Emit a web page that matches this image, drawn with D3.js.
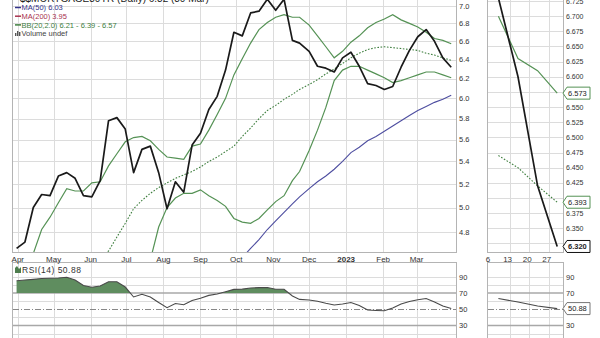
<!DOCTYPE html>
<html>
<head>
<meta charset="utf-8">
<script src="https://cdn.jsdelivr.net/npm/d3@7.9.0/dist/d3.min.js"></script>
<style>
  html, body { margin: 0; padding: 0; background: #fff; }
  svg { display: block; font-family: "Liberation Sans", Arial, sans-serif; }
</style>
</head>
<body>
<svg id="chart" width="600" height="338"></svg>
<script>
// weekly readings, Mar 2022 - Mar 2023
const dates = [
  '2022-03-31', '2022-04-07', '2022-04-14', '2022-04-21', '2022-04-28',
  '2022-05-05', '2022-05-12', '2022-05-19', '2022-05-26', '2022-06-02',
  '2022-06-09', '2022-06-16', '2022-06-23', '2022-06-30', '2022-07-07',
  '2022-07-14', '2022-07-21', '2022-07-28', '2022-08-04', '2022-08-11',
  '2022-08-18', '2022-08-25', '2022-09-01', '2022-09-08', '2022-09-15',
  '2022-09-22', '2022-09-29', '2022-10-06', '2022-10-13', '2022-10-20',
  '2022-10-27', '2022-11-03', '2022-11-10', '2022-11-17', '2022-11-23',
  '2022-12-01', '2022-12-08', '2022-12-15', '2022-12-22', '2022-12-29',
  '2023-01-05', '2023-01-12', '2023-01-19', '2023-01-26', '2023-02-02',
  '2023-02-09', '2023-02-16', '2023-02-23', '2023-03-02', '2023-03-09',
  '2023-03-16', '2023-03-23', '2023-03-30'
];

const close = [
  4.67, 4.72, 5.00, 5.11, 5.10, 5.27, 5.30, 5.25, 5.10, 5.09,
  5.23, 5.78, 5.81, 5.70, 5.30, 5.51, 5.54, 5.30, 4.99, 5.22,
  5.13, 5.55, 5.66, 5.89, 6.02, 6.29, 6.70, 6.66, 6.92, 6.94,
  7.08, 6.95, 7.08, 6.61, 6.58, 6.49, 6.33, 6.31, 6.27, 6.42,
  6.48, 6.33, 6.15, 6.13, 6.09, 6.12, 6.32, 6.50, 6.65, 6.73,
  6.60, 6.42, 6.32
];

const bbUpper = [
  4.40, 4.52, 4.63, 4.82, 4.92, 5.04, 5.16, 5.14, 5.14, 5.21,
  5.22, 5.36, 5.47, 5.58, 5.62, 5.63, 5.59, 5.51, 5.44, 5.43,
  5.42, 5.54, 5.56, 5.69, 5.84, 6.00, 6.24, 6.41, 6.58, 6.73,
  6.81, 6.87, 6.90, 6.87, 6.87, 6.78, 6.66, 6.54, 6.42, 6.49,
  6.59, 6.66, 6.75, 6.81, 6.85, 6.90, 6.84, 6.80, 6.76, 6.70,
  6.63, 6.61, 6.573
];

// below the panel before mid-June, so not readable there
const bbMiddle = [
  null, null, null, null, null, null, null, null, null, null,
  4.60, 4.65, 4.76, 4.87, 4.99, 5.06, 5.12, 5.17, 5.21, 5.25,
  5.28, 5.31, 5.35, 5.40, 5.44, 5.49, 5.54, 5.63, 5.71, 5.80,
  5.88, 5.93, 5.99, 6.04, 6.09, 6.14, 6.19, 6.25, 6.30, 6.36,
  6.42, 6.47, 6.51, 6.53, 6.54, 6.53, 6.52, 6.51, 6.50, 6.47,
  6.45, 6.42, 6.393
];

const bbLower = [
  null, null, null, null, null, null, null, null, null, null,
  null, null, null, null, null, 4.45, 4.58, 4.84, 5.00, 5.08,
  5.12, 5.12, 5.15, 5.10, 5.06, 5.01, 4.91, 4.88, 4.87, 4.91,
  4.98, 5.05, 5.10, 5.23, 5.31, 5.50, 5.69, 5.91, 6.18, 6.29,
  6.33, 6.33, 6.29, 6.25, 6.21, 6.16, 6.18, 6.21, 6.24, 6.27,
  6.27, 6.24, 6.21
];

const ma50 = [
  null, null, null, null, null, null, null, null, null, null,
  null, null, null, null, null, null, null, null, null, null,
  null, null, null, null, null, null, null, 4.60, 4.67, 4.74,
  4.82, 4.89, 4.96, 5.03, 5.09, 5.16, 5.22, 5.27, 5.33, 5.40,
  5.48, 5.53, 5.59, 5.63, 5.68, 5.73, 5.78, 5.83, 5.88, 5.92,
  5.96, 5.99, 6.03
];

const ma200Last = 3.95;

const rsi = [
  85.3, 86.2, 87.0, 88.0, 88.3, 88.6, 89.5, 86.2, 79.4, 77.3,
  78.8, 84.0, 84.0, 77.5, 65.2, 68.5, 65.2, 58.4, 52.0, 57.2,
  55.6, 60.9, 63.7, 67.2, 68.8, 71.6, 74.6, 74.9, 76.3, 76.8,
  77.0, 74.7, 74.7, 66.4, 62.2, 61.5, 59.9, 57.4, 55.3, 56.5,
  58.4, 54.7, 49.1, 48.6, 48.3, 51.6, 56.5, 59.6, 61.7, 63.3,
  59.0, 54.0, 50.88
];

const priceTicks = [4.8, 5.0, 5.2, 5.4, 5.6, 5.8, 6.0, 6.2, 6.4, 6.6, 6.8, 7.0];
const sideTicks = [6.325, 6.35, 6.375, 6.4, 6.425, 6.45, 6.475, 6.5, 6.525, 6.55,
                   6.575, 6.6, 6.625, 6.65, 6.675, 6.7, 6.725];
const rsiTicks = [30, 50, 70, 90];
const monthLabels = ['Apr', 'May', 'Jun', 'Jul', 'Aug', 'Sep', 'Oct', 'Nov', 'Dec', '2023', 'Feb', 'Mar'];
const sideDays = ['2023-03-06', '2023-03-13', '2023-03-20', '2023-03-27'];
const sideDayLabels = ['6', '13', '20', '27'];

const parse = d3.utcParse('%Y-%m-%d');
const rows = dates.map((d, i) => ({
  date: parse(d), close: close[i], up: bbUpper[i], mid: bbMiddle[i],
  lo: bbLower[i], ma: ma50[i], rsi: rsi[i]
}));
const sideStart = parse('2023-03-06');
const sideRows = rows.filter(d => d.date >= sideStart);
const last = rows[rows.length - 1];

// panel boxes
const main = { x0: 13, x1: 456, y0: -20, y1: 252 };
const rsiBox = { x0: 13, x1: 456, y0: 263, y1: 345 };
const side = { x0: 488, x1: 563, y0: -20, y1: 252 };
const sideRsi = { x0: 488, x1: 563, y0: 263, y1: 345 };

const x = d3.scaleUtc().domain([parse('2022-03-28'), parse('2023-04-03')]).range([main.x0, main.x1]);
const y = d3.scaleLog().domain([4.64, 7.3]).range([252.3, -19.1]);
const yR = d3.scaleLinear().domain([0, 100]).range([349.8, 268.8]);
const xS = d3.scaleUtc().domain([sideStart, parse('2023-03-31')]).range([490, 560]);
const yS = d3.scaleLinear().domain([6.30, 6.75]).range([258.6, -14.15]);

const svg = d3.select('#chart');
const defs = svg.append('defs');
function clip(id, b) {
  defs.append('clipPath').attr('id', id).append('rect')
    .attr('x', b.x0).attr('y', b.y0).attr('width', b.x1 - b.x0).attr('height', b.y1 - b.y0);
}
clip('cMain', main); clip('cRsi', rsiBox); clip('cSide', side); clip('cSideRsi', sideRsi);
defs.append('clipPath').attr('id', 'cAbove70').append('rect')
  .attr('x', rsiBox.x0).attr('y', rsiBox.y0).attr('width', rsiBox.x1 - rsiBox.x0)
  .attr('height', yR(70) - rsiBox.y0);

const gridColor = '#dcdcdc';
const green = '#559255';

// ---- gridlines ----
const grid = svg.append('g').attr('stroke', gridColor).attr('stroke-width', 1);
const months = d3.utcMonth.range(parse('2022-04-01'), parse('2023-03-02'));
months.forEach(m => {
  const xx = Math.round(x(m)) + 0.5;
  grid.append('line').attr('x1', xx).attr('x2', xx).attr('y1', main.y0).attr('y2', main.y1);
  grid.append('line').attr('x1', xx).attr('x2', xx).attr('y1', rsiBox.y0).attr('y2', rsiBox.y1);
});
priceTicks.forEach(t => {
  const yy = Math.round(y(t)) + 0.5;
  grid.append('line').attr('x1', main.x0).attr('x2', main.x1).attr('y1', yy).attr('y2', yy);
});
sideTicks.forEach(t => {
  const yy = Math.round(yS(t)) + 0.5;
  grid.append('line').attr('x1', side.x0).attr('x2', side.x1).attr('y1', yy).attr('y2', yy);
});
sideDays.slice(1).forEach(d => {
  const xx = Math.round(xS(parse(d))) + 0.5;
  grid.append('line').attr('x1', xx).attr('x2', xx).attr('y1', side.y0).attr('y2', side.y1);
  grid.append('line').attr('x1', xx).attr('x2', xx).attr('y1', sideRsi.y0).attr('y2', sideRsi.y1);
});
[10, 20, 40, 60, 80, 90].forEach(t => {
  const yy = Math.round(yR(t)) + 0.5;
  grid.append('line').attr('x1', rsiBox.x0).attr('x2', rsiBox.x1).attr('y1', yy).attr('y2', yy);
  grid.append('line').attr('x1', sideRsi.x0).attr('x2', sideRsi.x1).attr('y1', yy).attr('y2', yy);
});

// rsi reference lines
[[rsiBox.x0, rsiBox.x1], [sideRsi.x0, sideRsi.x1]].forEach(([a, b]) => {
  [70, 30].forEach(t => {
    svg.append('line').attr('x1', a).attr('x2', b).attr('y1', yR(t)).attr('y2', yR(t))
      .attr('stroke', '#a8a8a8').attr('stroke-width', 1.5);
  });
  svg.append('line').attr('x1', a).attr('x2', b).attr('y1', Math.round(yR(50)) + 0.5).attr('y2', Math.round(yR(50)) + 0.5)
    .attr('stroke', '#888').attr('stroke-width', 1).attr('stroke-dasharray', '6,2,1,2');
});

// ---- main price lines ----
function lineOf(key, xs, ys) {
  return d3.line().defined(d => d[key] != null).x(d => xs(d.date)).y(d => ys(d[key]));
}
const gMain = svg.append('g').attr('clip-path', 'url(#cMain)').attr('fill', 'none');
gMain.append('path').attr('d', lineOf('ma', x, y)(rows)).attr('stroke', '#4e4ea0').attr('stroke-width', 1.1);
gMain.append('path').attr('d', lineOf('mid', x, y)(rows)).attr('stroke', '#3f7f3f').attr('stroke-width', 1.1)
  .attr('stroke-dasharray', '1.6,1.6');
gMain.append('path').attr('d', lineOf('lo', x, y)(rows)).attr('stroke', green).attr('stroke-width', 1.2);
gMain.append('path').attr('d', lineOf('up', x, y)(rows)).attr('stroke', green).attr('stroke-width', 1.2);
gMain.append('path').attr('d', lineOf('close', x, y)(rows)).attr('stroke', '#1a1a1a').attr('stroke-width', 1.7)
  .attr('stroke-linejoin', 'round');

// ---- side price lines ----
const gSide = svg.append('g').attr('clip-path', 'url(#cSide)').attr('fill', 'none');
gSide.append('path').attr('d', lineOf('mid', xS, yS)(sideRows)).attr('stroke', '#3f7f3f').attr('stroke-width', 1.1)
  .attr('stroke-dasharray', '1.6,1.6');
gSide.append('path').attr('d', lineOf('lo', xS, yS)(sideRows)).attr('stroke', green).attr('stroke-width', 1.2);
gSide.append('path').attr('d', lineOf('up', xS, yS)(sideRows)).attr('stroke', green).attr('stroke-width', 1.2);
gSide.append('path').attr('d', lineOf('close', xS, yS)(sideRows)).attr('stroke', '#1a1a1a').attr('stroke-width', 1.7);

// ---- rsi ----
const gRsi = svg.append('g').attr('clip-path', 'url(#cRsi)');
gRsi.append('g').attr('clip-path', 'url(#cAbove70)')
  .append('path')
  .attr('d', d3.area().x(d => x(d.date)).y0(yR(70)).y1(d => yR(d.rsi))(rows))
  .attr('fill', '#5f8d5f');
gRsi.append('path').attr('d', lineOf('rsi', x, yR)(rows)).attr('fill', 'none')
  .attr('stroke', '#4a4a4a').attr('stroke-width', 1.1);
svg.append('g').attr('clip-path', 'url(#cSideRsi)').append('path')
  .attr('d', lineOf('rsi', xS, yR)(sideRows)).attr('fill', 'none')
  .attr('stroke', '#4a4a4a').attr('stroke-width', 1.1);

// ---- panel borders ----
[main, rsiBox, side, sideRsi].forEach(b => {
  svg.append('rect').attr('x', b.x0 - 0.5).attr('y', b.y0 - 0.5)
    .attr('width', b.x1 - b.x0 + 1).attr('height', b.y1 - b.y0 + 1)
    .attr('fill', 'none').attr('stroke', '#b4b4b4').attr('stroke-width', 1);
});

// ---- value tags on the side panel (labels they cover are skipped) ----
const tags = [
  { y: yS(last.up), txt: d3.format('.3f')(last.up), stroke: green, bold: false },
  { y: yS(last.mid), txt: d3.format('.3f')(last.mid), stroke: green, bold: false },
  { y: yS(last.close), txt: d3.format('.3f')(last.close), stroke: '#111', bold: true },
  { y: yR(last.rsi), txt: d3.format('.2f')(last.rsi), stroke: '#777', bold: false }
];
const covered = yy => tags.some(t => Math.abs(t.y - yy) < 5);

// ---- axis labels ----
const lab = svg.append('g').attr('fill', '#333');
priceTicks.forEach(t => {
  lab.append('text').attr('x', 459).attr('y', y(t) + 2.6).attr('font-size', 7.5).text(d3.format('.1f')(t));
});
sideTicks.filter(t => !covered(yS(t))).forEach(t => {
  lab.append('text').attr('x', 566).attr('y', yS(t) + 2.5).attr('font-size', 7).text(d3.format('.3f')(t));
});
rsiTicks.forEach(t => {
  lab.append('text').attr('x', 459).attr('y', yR(t) + 2.6).attr('font-size', 7.5).text(t);
  if (!covered(yR(t))) {
    lab.append('text').attr('x', 566).attr('y', yR(t) + 2.6).attr('font-size', 7.5).text(t);
  }
});
months.forEach((m, i) => {
  lab.append('text').attr('x', x(m)).attr('y', 261.5).attr('font-size', 8)
    .attr('text-anchor', 'middle')
    .attr('font-weight', monthLabels[i] === '2023' ? 'bold' : 'normal')
    .text(monthLabels[i]);
});
sideDays.forEach((d, i) => {
  lab.append('text').attr('x', xS(parse(d)) - 2).attr('y', 261.5).attr('font-size', 8)
    .attr('text-anchor', 'middle').text(sideDayLabels[i]);
});

tags.forEach(t => {
  const x0 = 563, w = 27, h = 6, cy = t.y;
  svg.append('path')
    .attr('d', `M${x0},${cy} L${x0 + 4},${cy - h} L${x0 + w},${cy - h} L${x0 + w},${cy + h} L${x0 + 4},${cy + h} Z`)
    .attr('fill', '#fff').attr('stroke', t.stroke).attr('stroke-width', 1);
  svg.append('text').attr('x', x0 + 5).attr('y', cy + 2.7).attr('font-size', 7.5)
    .attr('font-weight', t.bold ? 'bold' : 'normal').attr('fill', '#222').text(t.txt);
});

// ---- legend ----
const f2 = d3.format('.2f');
svg.append('text').attr('x', 20).attr('y', 2).attr('font-size', 10).attr('fill', '#222')
  .text(`$$MORTGAGE30YR (Daily) ${f2(last.close)} (30 Mar)`);
const legend = [
  { color: '#33338a', text: `MA(50) ${f2(last.ma)}` },
  { color: '#a8334f', text: `MA(200) ${f2(ma200Last)}` },
  { color: '#3f7f3f', text: `BB(20,2.0) ${f2(last.lo)} - ${f2(last.mid)} - ${f2(last.up)}` }
];
legend.forEach((d, i) => {
  const yy = 7.5 + i * 8.7;
  svg.append('line').attr('x1', 15).attr('x2', 21).attr('y1', yy).attr('y2', yy)
    .attr('stroke', d.color).attr('stroke-width', 1.5);
  svg.append('text').attr('x', 21.5).attr('y', yy + 2.6).attr('font-size', 7.5)
    .attr('fill', d.color).text(d.text);
});
const volY = 33.5;
[[15, 3], [17, 5], [19, 4]].forEach(([bx, bh]) => {
  svg.append('rect').attr('x', bx).attr('y', volY + 2.5 - bh).attr('width', 1.4).attr('height', bh).attr('fill', '#555');
});
svg.append('text').attr('x', 21.5).attr('y', volY + 2.6).attr('font-size', 7.5).attr('fill', '#444').text('Volume undef');

// rsi legend
const ic = svg.append('g').attr('fill', '#4d7d4d');
ic.append('path').attr('d', 'M15,273 L15,268 L17,266 L19,269 L21,267 L21,273 Z');
svg.append('text').attr('x', 22).attr('y', 272.5).attr('font-size', 8.5).attr('letter-spacing', 0.5)
  .attr('fill', '#333').text(`RSI(14) ${f2(last.rsi)}`);
</script>
</body>
</html>
